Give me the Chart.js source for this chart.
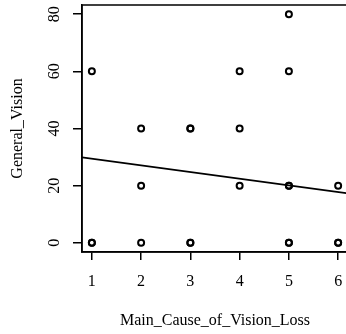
<!DOCTYPE html>
<html>
<head>
<meta charset="utf-8">
<script src="https://cdn.jsdelivr.net/npm/chart.js@4/dist/chart.umd.min.js"></script>
<style>
    html, body { margin: 0; padding: 0; background: #fff; overflow: hidden; }
    canvas { display: block; }
</style>
</head>
<body>
<canvas id="chart" width="348" height="334"></canvas>
<script>
"use strict";
// cause of vision loss vs general vision score (repeats = overplotted points)
const causeX = [1, 1, 1, 2, 2, 2, 3, 3, 3, 3, 4, 4, 4, 5, 5, 5, 5, 5, 5, 6, 6, 6];
const visionY = [60, 0, 0, 40, 20, 0, 40, 40, 0, 0, 60, 40, 20, 80, 60, 20, 20, 0, 0, 20, 0, 0];
// fitted line, read at both ends of the x range
const fitX = [0.8, 6.2];
const fitY = [29.9, 17.3];
const xTicks = [1, 2, 3, 4, 5, 6];
const yTicks = [0, 20, 40, 60, 80];

const serif = 'Liberation Serif, Times New Roman, serif';

const boxPlugin = {
    id: 'box',
    afterDraw(chart) {
        const a = chart.chartArea;
        const ctx = chart.ctx;
        ctx.save();
        ctx.strokeStyle = '#000';
        ctx.lineWidth = 1.5;
        ctx.strokeRect(a.left, a.top, a.right - a.left, a.bottom - a.top);
        ctx.restore();
    }
};

const ctx = document.getElementById('chart').getContext('2d');
new Chart(ctx, {
    type: 'scatter',
    data: {
        datasets: [{
            data: causeX.map((x, i) => ({ x: x, y: visionY[i] })),
            pointStyle: 'circle',
            pointRadius: 3,
            borderWidth: 2,
            borderColor: '#000',
            backgroundColor: 'rgba(0,0,0,0)',
            order: 1
        }, {
            type: 'line',
            data: fitX.map((x, i) => ({ x: x, y: fitY[i] })),
            borderColor: '#000',
            borderWidth: 1.6,
            pointRadius: 0,
            fill: false,
            order: 2
        }]
    },
    options: {
        responsive: false,
        animation: false,
        layout: { autoPadding: false, padding: { top: 5, right: 0, bottom: 0, left: 0 } },
        plugins: { legend: { display: false }, tooltip: { enabled: false } },
        scales: {
            x: {
                type: 'linear',
                min: 0.8,
                max: 6.2,
                afterBuildTicks: s => { s.ticks = xTicks.map(v => ({ value: v })); },
                afterFit: s => { s.height = 82; s.paddingLeft = 0; s.paddingRight = 0; },
                grid: { display: true, drawOnChartArea: false, drawTicks: true, tickLength: 8, color: '#000', lineWidth: 1.5 },
                border: { display: true, color: '#000', width: 1.5 },
                ticks: { color: '#000', font: { family: serif, size: 16 }, padding: 12, maxRotation: 0, autoSkip: false },
                title: { display: true, text: 'Main_Cause_of_Vision_Loss', color: '#000', font: { family: serif, size: 16 }, padding: { top: 0, bottom: 4 } }
            },
            y: {
                type: 'linear',
                min: -3.2,
                max: 83.2,
                afterBuildTicks: s => { s.ticks = yTicks.map(v => ({ value: v })); },
                afterFit: s => { s.width = 82; s.paddingTop = 0; s.paddingBottom = 0; },
                grid: { display: true, drawOnChartArea: false, drawTicks: true, tickLength: 9, color: '#000', lineWidth: 1.5 },
                border: { display: true, color: '#000', width: 1.5 },
                ticks: { color: '#000', font: { family: serif, size: 16 }, padding: 10, minRotation: 90, maxRotation: 90, crossAlign: 'center', autoSkip: false },
                title: { display: true, text: 'General_Vision', color: '#000', font: { family: serif, size: 16 }, padding: { top: 8, bottom: 0 } }
            }
        }
    },
    plugins: [boxPlugin]
});
</script>
</body>
</html>
